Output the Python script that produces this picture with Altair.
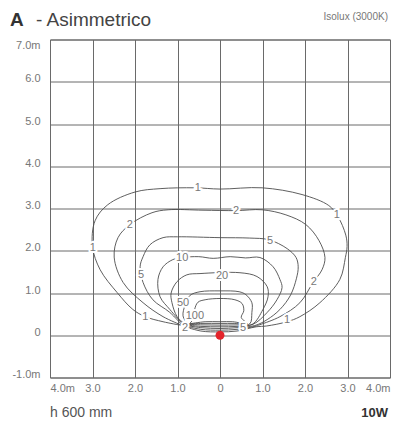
import altair as alt
import pandas as pd

# ---- data ----
levels = ["1", "2", "5", "10", "20", "50", "100"]

c1_x = [-0.94, -1.34, -1.76, -2.05, -2.42, -2.82, -3.0, -2.94, -2.64, -2.0, -1.41, -0.59, 0.0, 0.99, 1.93, 2.56, 2.77, 2.96, 2.99, 2.95, 2.82, 2.35, 1.88, 1.58, 1.1, 0.85, 0.4, 0.0, -0.45, -0.94]
c1_y = [0.24, 0.32, 0.44, 0.61, 1.01, 1.55, 2.1, 2.71, 3.09, 3.39, 3.47, 3.49, 3.46, 3.49, 3.33, 3.07, 2.82, 2.37, 2.10, 1.84, 1.32, 0.77, 0.44, 0.32, 0.22, 0.2, 0.10, 0.08, 0.10, 0.24]

c2_x = [-0.92, -1.34, -1.81, -2.28, -2.49, -2.40, -2.12, -1.60, -1.22, -0.4, 0.38, 0.99, 1.55, 2.02, 2.33, 2.47, 2.40, 2.19, 1.88, 1.41, 0.94, 0.82, 0.4, 0.0, -0.45, -0.92]
c2_y = [0.245, 0.44, 0.77, 1.25, 1.85, 2.31, 2.62, 2.90, 2.97, 2.96, 2.95, 2.97, 2.85, 2.62, 2.24, 1.84, 1.55, 1.25, 0.77, 0.44, 0.25, 0.21, 0.14, 0.12, 0.14, 0.245]

c5_x = [-0.90, -1.18, -1.58, -1.81, -1.88, -1.81, -1.65, -1.34, -1.0, 0.0, 0.7, 1.15, 1.58, 1.79, 1.84, 1.80, 1.66, 1.41, 1.11, 0.82, 0.4, 0.0, -0.45, -0.90]
c5_y = [0.25, 0.54, 0.84, 1.25, 1.62, 1.86, 2.14, 2.31, 2.33, 2.31, 2.30, 2.26, 2.05, 1.84, 1.62, 1.35, 0.95, 0.61, 0.37, 0.23, 0.18, 0.16, 0.18, 0.25]

c10_x = [-0.87, -1.18, -1.41, -1.46, -1.34, -1.11, -0.89, -0.5, -0.16, 0.24, 0.6, 0.94, 1.25, 1.41, 1.46, 1.34, 1.11, 0.78, 0.4, 0.0, -0.45, -0.87]
c10_y = [0.255, 0.61, 0.91, 1.32, 1.62, 1.79, 1.84, 1.86, 1.82, 1.86, 1.83, 1.84, 1.62, 1.32, 1.13, 0.84, 0.54, 0.26, 0.21, 0.20, 0.21, 0.255]

c20_x = [-0.82, -1.01, -1.13, -1.15, -1.01, -0.78, -0.47, 0.47, 0.87, 1.11, 1.13, 1.01, 0.76, 0.4, 0.0, -0.4, -0.82]
c20_y = [0.26, 0.44, 0.77, 1.0, 1.27, 1.43, 1.46, 1.48, 1.39, 1.15, 0.91, 0.61, 0.26, 0.245, 0.24, 0.245, 0.26]

c50_x = [-0.77, -0.87, -0.82, -0.71, -0.47, 0.0, 0.45, 0.61, 0.75, 0.75, 0.70, 0.35, 0.0, -0.4, -0.77]
c50_y = [0.265, 0.46, 0.72, 0.94, 1.03, 1.05, 1.03, 0.96, 0.77, 0.54, 0.27, 0.28, 0.28, 0.28, 0.265]

c100_x = [-0.72, -0.62, -0.60, -0.52, -0.35, 0.0, 0.35, 0.52, 0.56, 0.50, 0.64, 0.3, 0.0, -0.35, -0.72]
c100_y = [0.27, 0.40, 0.60, 0.78, 0.84, 0.87, 0.84, 0.75, 0.58, 0.42, 0.275, 0.32, 0.32, 0.32, 0.27]

lab_text = ["1", "1", "1", "1", "1", "2", "2", "2", "2", "5", "5", "5", "10", "20", "50", "100"]
lab_x = [-0.52, -2.99, 2.75, -1.76, 1.58, -2.12, 0.38, 2.21, -0.82, -1.86, 1.18, 0.54, -0.89, 0.05, -0.87, -0.59]
lab_y = [3.49, 2.07, 2.85, 0.44, 0.35, 2.62, 2.95, 1.25, 0.16, 1.43, 2.24, 0.18, 1.84, 1.41, 0.77, 0.46]

x_ticks = [-4, -3, -2, -1, 0, 1, 2, 3, 4]
y_ticks = [-1, 0, 1, 2, 3, 4, 5, 6, 7]

title_a = ["A"]
title_rest = ["- Asimmetrico"]
subtitle = ["Isolux (3000K)"]
foot_left = ["h 600 mm"]
foot_right = ["10W"]

# ---- build tables ----
rows = []
for lvl, xs, ys in zip(levels, [c1_x, c2_x, c5_x, c10_x, c20_x, c50_x, c100_x],
                       [c1_y, c2_y, c5_y, c10_y, c20_y, c50_y, c100_y]):
    for i, (a, b) in enumerate(zip(xs, ys)):
        rows.append({"level": lvl, "i": i, "x": a, "y": b})
contours = pd.DataFrame(rows)
labels = pd.DataFrame({"t": lab_text, "x": lab_x, "y": lab_y})
origin = pd.DataFrame({"x": [0.0], "y": [0.0]})

FONT = "Liberation Sans"

x_scale = alt.Scale(domain=[-4, 4], nice=False, zero=False)
y_scale = alt.Scale(domain=[-1, 7], nice=False, zero=False)

x_axis = alt.Axis(values=x_ticks, grid=True, ticks=False, domain=False, title=None,
                  labelExpr="datum.value == 0 ? '0' : (abs(datum.value) == 4 ? '4.0m' : format(abs(datum.value), '.1f'))",
                  labelFlush=True, labelPadding=5)
y_axis = alt.Axis(values=y_ticks, grid=True, ticks=False, domain=False, title=None,
                  labelExpr="datum.value == 0 ? '0' : (datum.value == 7 ? '7.0m' : (datum.value == -1 ? '-1.0m' : format(datum.value, '.1f')))",
                  labelFlush=False,
                  labelBaseline={"condition": {"test": "datum.value == 7", "value": "top"},
                                 "value": "alphabetic"},
                  labelPadding=10)

lines = alt.Chart(contours).mark_line(
    interpolate="catmull-rom", color="#4d4d4d", strokeWidth=0.9
).encode(
    x=alt.X("x:Q", scale=x_scale, axis=x_axis),
    y=alt.Y("y:Q", scale=y_scale, axis=y_axis),
    detail="level:N",
    order="i:Q",
)

halo = alt.Chart(labels).mark_text(
    font=FONT, fontSize=11, color="white", stroke="white", strokeWidth=4
).encode(x=alt.X("x:Q", scale=x_scale), y=alt.Y("y:Q", scale=y_scale), text="t:N")

lab = alt.Chart(labels).mark_text(
    font=FONT, fontSize=11, color="#777777"
).encode(x=alt.X("x:Q", scale=x_scale), y=alt.Y("y:Q", scale=y_scale), text="t:N")

dot = alt.Chart(origin).mark_circle(size=80, color="#e3242b", opacity=1).encode(
    x=alt.X("x:Q", scale=x_scale), y=alt.Y("y:Q", scale=y_scale)
)

def txt(vals, **kw):
    px = kw.pop("px")
    py = kw.pop("py")
    return alt.Chart(pd.DataFrame({"t": vals})).mark_text(font=FONT, **kw).encode(
        x=alt.value(px), y=alt.value(py), text="t:N")

t1 = txt(title_a, px=-40, py=-14, fontSize=19, fontWeight="bold", color="#333333",
         align="left", baseline="alphabetic")
t2 = txt(title_rest, px=-14, py=-14, fontSize=19, color="#444444",
         align="left", baseline="alphabetic")
t3 = txt(subtitle, px=338, py=-22.5, fontSize=10, color="#777777",
         align="right", baseline="middle")
t4 = txt(foot_left, px=0, py=373.5, fontSize=14, color="#555555",
         align="left", baseline="middle")
t5 = txt(foot_right, px=338, py=373.5, fontSize=13, fontWeight="bold", color="#333333",
         align="right", baseline="middle")

chart = alt.layer(lines, halo, lab, dot, t1, t2, t3, t4, t5).properties(
    width=340, height=338,
    autosize=alt.AutoSizeParams(type="none"),
    padding={"left": 42, "top": 31.5, "right": 7, "bottom": 45},
    background="white",
).configure_view(
    stroke="#666666", strokeWidth=1
).configure_axis(
    gridColor="#6a6a6a", gridWidth=1, gridOpacity=1,
    labelFont=FONT, labelFontSize=11, labelColor="#777777",
)

chart.save("out.html", embed_options={"renderer": "svg", "actions": False})
